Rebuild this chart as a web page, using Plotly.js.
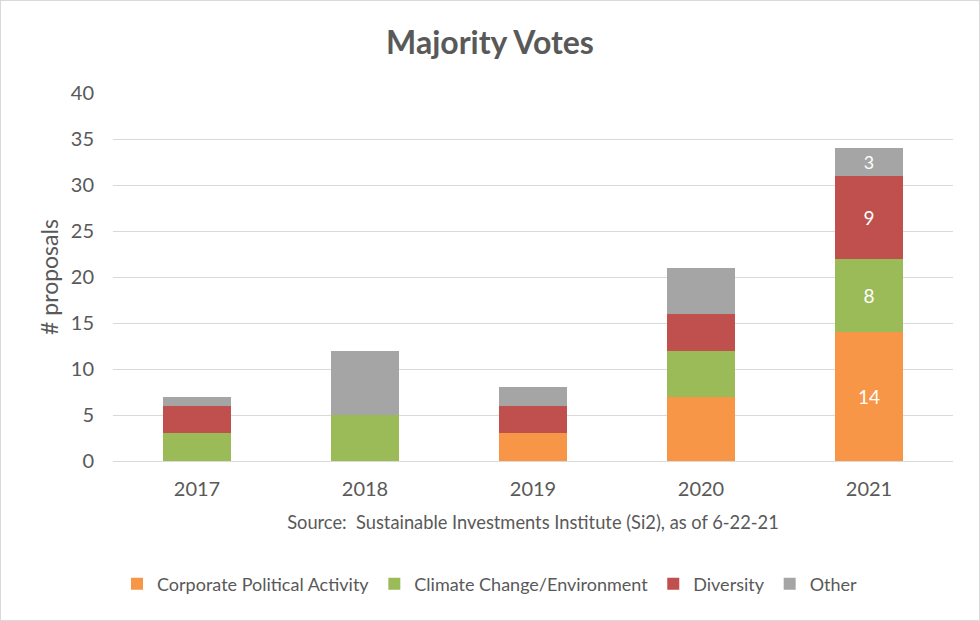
<!DOCTYPE html>
<html>
<head>
<meta charset="utf-8">
<script src="https://cdn.plot.ly/plotly-3.0.1.min.js"></script>
<style>
  html, body { margin: 0; padding: 0; background: #fff; }
  #chart { width: 980px; height: 621px; box-sizing: border-box; border: 1px solid #d9d9d9; }
</style>
</head>
<body>
<div id="chart"></div>
<script>
const years = ["2017", "2018", "2019", "2020", "2021"];
const corporatePolitical = [0, 0, 3, 7, 14];
const climateChange = [3, 5, 0, 5, 8];
const diversity = [3, 0, 3, 4, 9];
const other = [1, 7, 2, 5, 3];
const seriesNames = ["Corporate Political Activity", "Climate Change/Environment", "Diversity", "Other"];
const colors = ["#F79646", "#9BBB59", "#C0504D", "#A5A5A5"];
const yTicks = [0, 5, 10, 15, 20, 25, 30, 35, 40];

const FONT = "Lato, 'Open Sans', sans-serif";
const series = [corporatePolitical, climateChange, diversity, other];

const labelOnlyLast = vals => vals.map((v, i) => (i === vals.length - 1 ? String(v) : ""));

const traces = series.map((vals, k) => ({
  type: "bar",
  name: seriesNames[k],
  x: years,
  y: vals,
  text: labelOnlyLast(vals),
  textposition: "inside",
  insidetextanchor: "middle",
  textangle: 0,
  textfont: { color: "#ffffff", size: 19, family: FONT },
  marker: { color: colors[k], line: { width: 0 } },
  hoverinfo: "x+y+name"
}));

const layout = {
  width: 978,
  height: 619,
  barmode: "stack",
  bargap: 0.6,
  paper_bgcolor: "#ffffff",
  plot_bgcolor: "#ffffff",
  margin: { l: 112, r: 26, t: 92, b: 159 },
  font: { family: FONT, color: "#595959" },
  title: {
    text: "<b>Majority Votes</b>",
    font: { size: 32, color: "#595959", family: FONT },
    x: 0.5, xanchor: "center",
    y: 0.932, yanchor: "middle"
  },
  xaxis: {
    type: "category",
    tickfont: { size: 20, color: "#595959", family: FONT },
    ticklabelstandoff: 10,
    showgrid: false,
    showline: true,
    linecolor: "#d9d9d9",
    linewidth: 1,
    ticks: "",
    title: {
      text: "Source:  Sustainable Investments Institute (Si2), as of 6-22-21",
      font: { size: 18.3, color: "#595959", family: FONT },
      standoff: 17
    }
  },
  yaxis: {
    range: [0, 40],
    tickvals: yTicks,
    tickfont: { size: 20, color: "#595959", family: FONT },
    ticklabelstandoff: 18,
    gridcolor: "#d9d9d9",
    gridwidth: 1,
    zeroline: false,
    ticks: "",
    ticklen: 0,
    title: {
      text: "# proposals",
      font: { size: 23, color: "#595959", family: FONT },
      standoff: 5
    }
  },
  legend: {
    orientation: "h",
    traceorder: "normal",
    x: 0.5, xanchor: "center", xref: "container",
    y: 0.058, yanchor: "middle", yref: "container",
    font: { size: 18, color: "#595959", family: FONT },
    itemwidth: 30
  },
  showlegend: true
};

Plotly.newPlot("chart", traces, layout, { displayModeBar: false, staticPlot: true });
</script>
</body>
</html>
